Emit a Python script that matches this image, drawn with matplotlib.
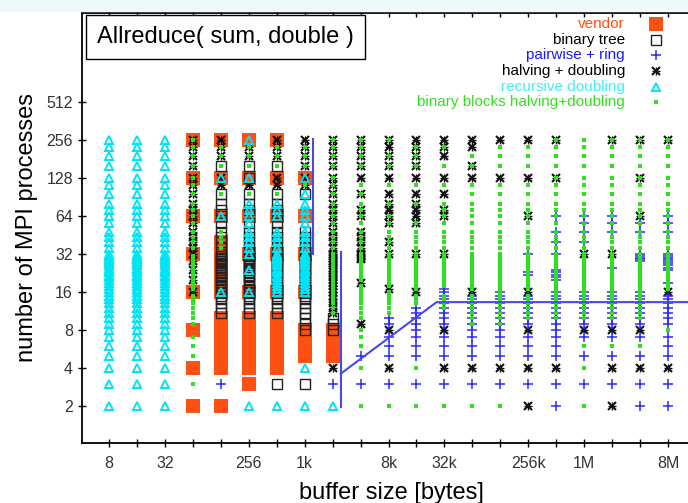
import matplotlib
matplotlib.use("Agg")
import matplotlib.pyplot as plt
from matplotlib.patches import Rectangle

plt.rcParams['font.family'] = ['Liberation Sans', 'DejaVu Sans']

# buffer sizes (bytes) of the measured columns
sizes = [8, 16, 32, 64, 128, 256, 512, 1024, 2048, 4096, 8192, 16384, 32768,
         65536, 131072, 262144, 524288, 1048576, 2097152, 4194304, 8388608]

# measured process counts (rows)
procs = [2, 3, 4, 5, 6, 7, 8, 9, 10, 11, 12, 13, 14, 15, 16, 17, 18, 19, 20,
         21, 22, 23, 24, 25, 26, 27, 28, 29, 30, 31, 32,
         36, 40, 44, 48, 56, 64, 72, 80, 96, 112, 128, 160, 192, 224, 256]

x_ticks_labelled = {8: '8', 32: '32', 256: '256', 1024: '1k', 8192: '8k',
                    32768: '32k', 262144: '256k', 1048576: '1M', 8388608: '8M'}
y_ticks = [2, 4, 8, 16, 32, 64, 128, 256, 512]

# fastest protocol(s) per column: (p_from, p_to, codes)
# V vendor, T binary tree, P pairwise+ring, H halving+doubling,
# R recursive doubling, B binary blocks
best = {
    8: [(2, 256, 'R')],
    16: [(2, 256, 'R')],
    32: [(2, 256, 'R')],
    64: [(2, 2, 'V'), (3, 3, 'B'), (4, 4, 'V'), (5, 7, 'B'), (8, 8, 'V'),
         (9, 15, 'B'), (16, 16, 'VH'), (17, 31, 'B'), (20, 20, 'H'),
         (24, 24, 'H'), (28, 28, 'H'), (32, 32, 'VH'), (36, 56, 'HB'),
         (64, 64, 'VHB'), (72, 112, 'HB'), (128, 128, 'VHB'),
         (160, 224, 'HB'), (256, 256, 'VHB')],
    128: [(2, 2, 'V'), (3, 3, 'P'), (4, 10, 'V'), (11, 15, 'T'),
          (16, 16, 'VRT'), (17, 31, 'T'), (20, 30, 'V'), (32, 32, 'VT'),
          (36, 48, 'TB'), (36, 40, 'V'), (56, 56, 'T'), (64, 64, 'VRT'),
          (72, 80, 'T'), (96, 96, 'TB'), (112, 112, 'H'), (128, 128, 'VRH'),
          (160, 160, 'TB'), (192, 224, 'HB'), (256, 256, 'VH')],
    256: [(2, 2, 'R'), (3, 3, 'V'), (4, 10, 'V'), (11, 31, 'T'),
          (16, 16, 'VR'), (24, 24, 'R'), (32, 32, 'VRT'), (36, 56, 'TR'),
          (64, 64, 'VR'), (72, 80, 'RT'), (96, 96, 'TB'), (112, 112, 'H'),
          (128, 128, 'VRT'), (160, 160, 'TB'), (192, 224, 'HB'),
          (256, 256, 'VR')],
    512: [(2, 2, 'R'), (3, 3, 'T'), (4, 10, 'V'), (11, 15, 'T'),
          (16, 16, 'VR'), (17, 31, 'TR'), (32, 32, 'VR'), (36, 48, 'TR'),
          (56, 56, 'T'), (64, 64, 'VRT'), (72, 80, 'TR'), (96, 96, 'TB'),
          (112, 112, 'H'), (128, 128, 'VH'), (160, 160, 'TB'),
          (192, 224, 'HB'), (256, 256, 'VH')],
    1024: [(2, 2, 'R'), (3, 3, 'T'), (4, 4, 'R'), (5, 7, 'V'), (8, 8, 'VT'),
           (9, 15, 'T'), (16, 16, 'VR'), (17, 31, 'TR'), (32, 32, 'VR'),
           (36, 48, 'TR'), (56, 56, 'R'), (64, 64, 'VR'), (72, 80, 'R'),
           (96, 96, 'TR'), (112, 112, 'HB'), (128, 128, 'VHR'),
           (160, 224, 'HB'), (256, 256, 'H')],
    2048: [(2, 2, 'R'), (3, 3, 'P'), (4, 4, 'H'), (5, 7, 'V'), (8, 8, 'VT'),
           (9, 10, 'T'), (11, 256, 'HB')],
    4096: [(2, 2, 'B'), (3, 3, 'P'), (4, 4, 'B'), (5, 5, 'P'), (6, 8, 'B'),
           (9, 9, 'H'), (10, 18, 'B'), (19, 19, 'H'), (20, 28, 'B'),
           (29, 48, 'HB'), (56, 56, 'B'), (64, 72, 'HB'), (80, 80, 'B'),
           (96, 96, 'HB'), (112, 112, 'B'), (128, 128, 'H'), (160, 256, 'HB')],
    8192: [(2, 2, 'B'), (3, 3, 'P'), (4, 4, 'H'), (5, 7, 'P'), (8, 8, 'H'),
           (9, 10, 'P'), (11, 16, 'B'), (17, 17, 'H'), (18, 48, 'B'),
           (32, 32, 'H'), (40, 40, 'H'), (56, 64, 'HB'), (72, 72, 'H'),
           (80, 80, 'HB'), (96, 96, 'H'), (112, 112, 'B'), (128, 128, 'H'),
           (160, 192, 'HB'), (224, 224, 'H'), (256, 256, 'HB')],
    16384: [(2, 2, 'B'), (3, 3, 'P'), (4, 4, 'B'), (5, 7, 'P'), (8, 8, 'P'),
            (9, 12, 'P'), (13, 15, 'B'), (16, 16, 'H'), (17, 48, 'B'),
            (32, 32, 'H'), (56, 56, 'HB'), (64, 72, 'H'), (80, 80, 'HB'),
            (96, 96, 'H'), (112, 112, 'B'), (128, 128, 'H'),
            (160, 224, 'HB'), (256, 256, 'H')],
    32768: [(2, 2, 'B'), (3, 3, 'P'), (4, 4, 'H'), (5, 7, 'P'), (8, 8, 'H'),
            (9, 16, 'P'), (12, 15, 'B'), (17, 17, 'P'), (18, 48, 'B'),
            (32, 32, 'H'), (56, 56, 'B'), (64, 72, 'HB'), (80, 80, 'B'),
            (96, 96, 'H'), (112, 112, 'B'), (128, 128, 'H'), (160, 160, 'B'),
            (192, 192, 'H'), (224, 224, 'HB'), (256, 256, 'H')],
    65536: [(2, 2, 'B'), (3, 3, 'P'), (4, 4, 'H'), (5, 15, 'P'),
            (9, 15, 'B'), (16, 16, 'H'), (17, 112, 'B'), (128, 128, 'H'),
            (160, 160, 'HB'), (192, 192, 'B'), (224, 224, 'H'),
            (256, 256, 'H')],
    131072: [(2, 2, 'B'), (3, 3, 'P'), (4, 4, 'H'), (5, 16, 'P'),
             (9, 16, 'B'), (17, 112, 'B'), (128, 128, 'H'), (160, 224, 'B'),
             (256, 256, 'H')],
    262144: [(2, 2, 'H'), (3, 3, 'P'), (4, 4, 'H'), (5, 7, 'P'), (8, 8, 'H'),
             (9, 15, 'P'), (10, 15, 'B'), (16, 16, 'H'), (17, 48, 'B'),
             (22, 23, 'P'), (32, 32, 'P'), (56, 56, 'B'), (64, 64, 'HB'),
             (72, 112, 'B'), (128, 128, 'H'), (160, 224, 'B'),
             (256, 256, 'H')],
    524288: [(2, 3, 'P'), (4, 4, 'H'), (5, 7, 'P'), (8, 8, 'P'),
             (9, 16, 'P'), (10, 256, 'B'), (20, 24, 'P'), (32, 32, 'P'),
             (40, 40, 'P'), (48, 48, 'P'), (64, 64, 'P'), (128, 128, 'H'),
             (256, 256, 'H')],
    1048576: [(2, 2, 'B'), (3, 3, 'P'), (4, 4, 'B'), (5, 5, 'P'),
              (6, 6, 'B'), (7, 7, 'P'), (8, 8, 'H'), (9, 16, 'P'),
              (10, 256, 'B'), (32, 32, 'H'), (40, 40, 'P'), (48, 48, 'P'),
              (56, 56, 'P'), (64, 64, 'P')],
    2097152: [(2, 2, 'H'), (3, 3, 'P'), (4, 4, 'H'), (5, 5, 'P'),
              (6, 6, 'B'), (7, 7, 'P'), (8, 8, 'H'), (9, 16, 'P'),
              (10, 256, 'B'), (25, 25, 'P'), (32, 32, 'H'), (48, 48, 'P'),
              (56, 56, 'P'), (64, 64, 'P'), (256, 256, 'H')],
    4194304: [(2, 3, 'P'), (4, 4, 'H'), (5, 5, 'P'), (6, 6, 'B'),
              (7, 7, 'P'), (8, 8, 'H'), (9, 16, 'P'), (10, 256, 'B'),
              (28, 32, 'P'), (48, 48, 'P'), (56, 56, 'P'), (64, 64, 'H'),
              (128, 128, 'H'), (256, 256, 'H')],
    8388608: [(2, 3, 'P'), (4, 4, 'H'), (5, 7, 'P'), (8, 8, 'B'),
              (9, 15, 'P'), (16, 16, 'H'), (17, 256, 'B'), (19, 19, 'P'),
              (24, 32, 'P'), (48, 48, 'P'), (56, 56, 'P'), (64, 64, 'P'),
              (256, 256, 'H')],
}

# hand drawn boundary of the "vendor / own protocols" regions
border1_x = [1250, 1250]
border1_y = [262, 32]
border2_x = [2500, 2500]
border2_y = [1.95, 33]
border3_x = [2500, 27000, 16777216]
border3_y = [3.6, 13.3, 13.3]

names = {'V': 'vendor', 'T': 'binary tree', 'P': 'pairwise + ring',
         'H': 'halving + doubling', 'R': 'recursive doubling',
         'B': 'binary blocks halving+doubling'}
label_colors = {'V': '#ff4f12', 'T': 'black', 'P': '#1a1aff', 'H': 'black',
                'R': '#3ef0f8', 'B': '#33dd22'}
styles = {
    'V': dict(marker='s', ms=10, mfc='#ff4f12', mec='#ff4f12', mew=0),
    'T': dict(marker='s', ms=6.5, mfc='none', mec='#222222', mew=1.0),
    'H': dict(marker='x', ms=5.5, mec='#111111', mew=1.5),
    'R': dict(marker='^', ms=5.5, mfc='none', mec='#00e4f4', mew=1.4),
    'P': dict(marker='+', ms=7, mec='#2a2aff', mew=1.1),
    'B': dict(marker='s', ms=2.3, mfc='#2ee020', mec='#2ee020', mew=0),
}
h_extra = dict(marker='+', ms=5.5, mec='#111111', mew=1.0)


def expand(segments):
    out = {c: [] for c in 'VTPHRB'}
    for lo, hi, codes in segments:
        for p in procs:
            if lo <= p <= hi:
                for c in codes:
                    out[c].append(p)
    return out


W, H = 688, 503
fig = plt.figure(figsize=(W / 100, H / 100), dpi=100)
fig.patches.append(Rectangle((0, 1 - 11 / H), 1, 11 / H, color='#eefafa',
                             transform=fig.transFigure, zorder=0))

left, right, bottom, top = 82, 700, 443, 13
ax = fig.add_axes([left / W, (H - bottom) / H, (right - left) / W,
                   (bottom - top) / H])
ax.set_xscale('log', base=2)
ax.set_yscale('log', base=2)
oct_x, oct_y = 27.95, 38.0
ax.set_xlim(8 * 2 ** (-(109 - left) / oct_x), 8 * 2 ** ((right - 109) / oct_x))
ax.set_ylim(2 * 2 ** (-(bottom - 406) / oct_y), 2 * 2 ** ((406 - top) / oct_y))

cells = {s: expand(best[s]) for s in sizes}
for code in 'VTHRPB':
    xs, ys = [], []
    for s in sizes:
        for p in cells[s][code]:
            xs.append(s)
            ys.append(p)
    ax.plot(xs, ys, ls='none', **styles[code])
    if code == 'H':
        ax.plot(xs, ys, ls='none', **h_extra)

for bx, by in [(border1_x, border1_y), (border2_x, border2_y),
               (border3_x, border3_y)]:
    ax.plot(bx, by, color='#4848f0', lw=1.5)

ax.set_xticks(sizes)
ax.set_xticklabels([x_ticks_labelled.get(s, '') for s in sizes])
ax.set_yticks(y_ticks)
ax.set_yticklabels([str(v) for v in y_ticks])
ax.minorticks_off()
ax.tick_params(axis='both', direction='inout', length=6, width=1,
               labelsize=11.5, labelcolor='#333333', top=True, right=False)
ax.tick_params(axis='x', pad=6)
for side in ['left', 'bottom', 'top']:
    ax.spines[side].set_linewidth(1.3)

ax.set_xlabel('buffer size [bytes]', fontsize=17, labelpad=8)
ax.set_ylabel('number of MPI processes', fontsize=17, labelpad=6)

fig.text(97 / W, 1 - 37 / H, 'Allreduce( sum, double )', fontsize=17,
         ha='left', va='center',
         bbox=dict(boxstyle='square,pad=0.45', fc='white', ec='black', lw=1))

# legend: right aligned coloured text with the marker to its right
leg_y = [24, 40, 55, 71, 87, 102]
for code, yy in zip('VTPHRB', leg_y):
    fig.text(625 / W, 1 - yy / H, names[code], fontsize=11, ha='right',
             va='center', color=label_colors[code])
    ax.plot([656 / W], [1 - yy / H], ls='none', transform=fig.transFigure,
            clip_on=False, **styles[code])
    if code == 'H':
        ax.plot([656 / W], [1 - yy / H], ls='none', transform=fig.transFigure,
                clip_on=False, **h_extra)

fig.savefig('out.png', dpi=100)
